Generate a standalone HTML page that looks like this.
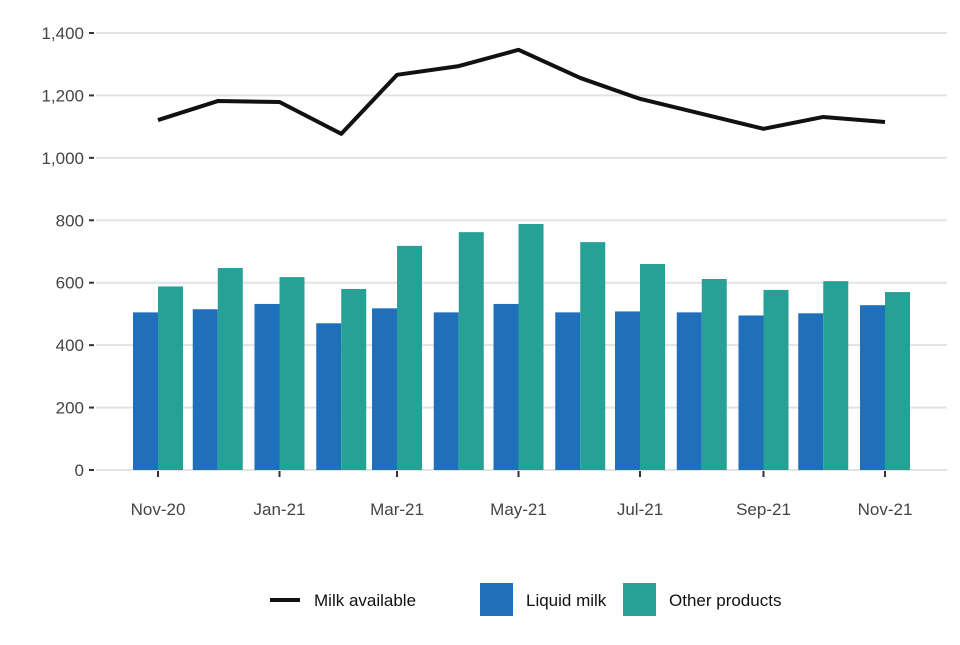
<!DOCTYPE html>
<html><head><meta charset="utf-8"><style>
body{margin:0;background:#fff;font-family:"Liberation Sans",Arial,sans-serif}
svg text{font-family:"Liberation Sans",Arial,sans-serif}
</style></head><body>
<svg id="chart" width="960" height="640" xmlns="http://www.w3.org/2000/svg">
<g id="grid"></g>
<g id="bars"></g>
<g id="line"></g>
<g id="axes"></g>
<g>
<line x1="270" y1="600" x2="300" y2="600" stroke="#111" stroke-width="4"/>
<text x="314" y="606" font-size="17" fill="#111">Milk available</text>
<rect x="480" y="583" width="33" height="33" fill="#1f6fba"/>
<text x="526" y="606" font-size="17" fill="#111">Liquid milk</text>
<rect x="623" y="583" width="33" height="33" fill="#27a096"/>
<text x="669" y="606" font-size="17" fill="#111">Other products</text>
</g>
</svg>
<script>
const months = ["2020-11","2020-12","2021-01","2021-02","2021-03","2021-04","2021-05","2021-06","2021-07","2021-08","2021-09","2021-10","2021-11"];
const liquidMilk = [505,515,532,470,518,505,532,505,508,505,495,502,528];
const otherProducts = [588,647,618,580,718,762,788,730,660,612,577,605,570];
const milkAvailable = [1121,1182,1179,1077,1266,1294,1346,1256,1189,1141,1093,1131,1115];
const yTicks = [0,200,400,600,800,1000,1200,1400];
const xTickLabels = ["Nov-20","Jan-21","Mar-21","May-21","Jul-21","Sep-21","Nov-21"];
const xTickMonths = ["2020-11","2021-01","2021-03","2021-05","2021-07","2021-09","2021-11"];

const NS="http://www.w3.org/2000/svg";
const t0=Date.UTC(2020,10,1), t1=Date.UTC(2021,10,1);
function x(m){const [y,mo]=m.split("-").map(Number);const t=Date.UTC(y,mo-1,1);return 158+(t-t0)/(t1-t0)*727;}
function yS(v){return 470-v*(437/1400);}
function mk(tag,attrs,parent){const e=document.createElementNS(NS,tag);for(const k in attrs)e.setAttribute(k,attrs[k]);parent.appendChild(e);return e;}
const grid=document.getElementById("grid"),axes=document.getElementById("axes"),bars=document.getElementById("bars"),line=document.getElementById("line");
yTicks.forEach(v=>{
 const g=mk("line",{x1:96,x2:947,y1:yS(v),y2:yS(v),stroke:"#e3e3e3","stroke-width":2},grid);
 
 
 const tk=mk("line",{x1:89,x2:94,y1:yS(v),y2:yS(v),stroke:"#333","stroke-width":2},axes);
 
 
 const t=mk("text",{x:84,y:yS(v)+6,"text-anchor":"end","font-size":17,fill:"#444"},axes);
 t.textContent=v.toLocaleString("en-US");
 
 
});
xTickMonths.forEach((m,i)=>{
 const tk=mk("line",{x1:x(m),x2:x(m),y1:471,y2:477,stroke:"#333","stroke-width":2},axes);
 
 
 const t=mk("text",{x:x(m),y:515,"text-anchor":"middle","font-size":17,fill:"#444"},axes);
 t.textContent=xTickLabels[i];
 
 
});
const bw=25;
months.forEach((m,i)=>{
 const cx=x(m);
 const a=mk("rect",{x:cx-bw,y:yS(liquidMilk[i]),width:bw,height:470-yS(liquidMilk[i]),fill:"#1f6fba"},bars);
 
 
 const b=mk("rect",{x:cx,y:yS(otherProducts[i]),width:bw,height:470-yS(otherProducts[i]),fill:"#27a096"},bars);
 
 
});
const p=mk("polyline",{points:months.map((m,i)=>x(m)+","+yS(milkAvailable[i])).join(" "),fill:"none",stroke:"#111","stroke-width":4,"stroke-linejoin":"round"},line);


</script>
</body></html>
